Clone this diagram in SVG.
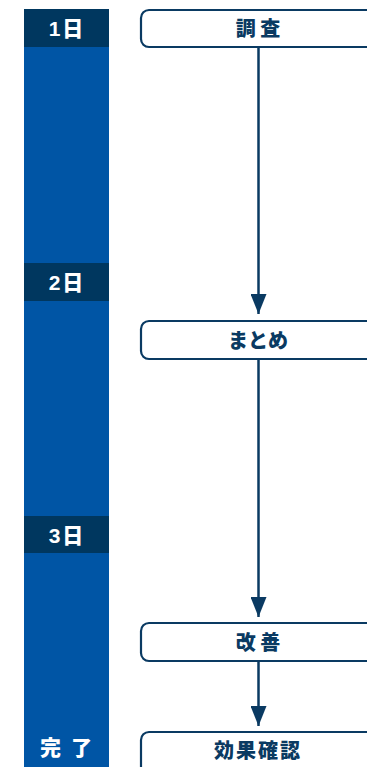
<svg xmlns="http://www.w3.org/2000/svg" width="367" height="767" viewBox="0 0 367 767">
<style>
.bar{fill:#0055a5}
.day{fill:#00375f}
.dl{font-family:"Liberation Sans","Noto Sans CJK JP",sans-serif;font-weight:900;font-size:21px;fill:#fff;text-anchor:middle;letter-spacing:2px}
.box{fill:#fff;stroke:#0a3a62;stroke-width:2.2}
.nl{font-family:"Noto Sans CJK JP",sans-serif;font-weight:900;font-size:20px;fill:#0a3a62;text-anchor:middle}
.ln{stroke:#0a3a62;stroke-width:2.5;fill:none}
</style>
<defs>
<marker id="ah" viewBox="0 0 20 16" refX="20" refY="8" markerWidth="20" markerHeight="16" markerUnits="userSpaceOnUse" orient="auto">
<path d="M0,0 L20,8 L0,16 Z" fill="#0a3a62"/>
</marker>
</defs>
<g id="timeline">
<rect class="bar" x="24" y="9" width="85" height="758"/>
<rect class="day" x="24" y="9" width="85" height="38"/>
<text class="dl" x="67" y="36">1日</text>
<rect class="day" x="24" y="263" width="85" height="38"/>
<text class="dl" x="67" y="290">2日</text>
<rect class="day" x="24" y="516" width="85" height="37"/>
<text class="dl" x="67" y="543">3日</text>
<text class="dl" x="67" y="755">完 了</text>
</g>
<g id="connectors">
<line class="ln" x1="258.5" y1="48" x2="258.5" y2="314" marker-end="url(#ah)"/>
<line class="ln" x1="258.5" y1="359" x2="258.5" y2="617" marker-end="url(#ah)"/>
<line class="ln" x1="258.5" y1="662" x2="258.5" y2="726" marker-end="url(#ah)"/>
</g>
<g id="n1">
<rect class="box" x="141" y="10" width="260" height="37" rx="8"/>
<text class="nl" x="258" y="36">調 査</text>
</g>
<g id="n2">
<rect class="box" x="141" y="321" width="260" height="38" rx="8"/>
<text class="nl" x="258" y="348">まとめ</text>
</g>
<g id="n3">
<rect class="box" x="141" y="623" width="260" height="38" rx="8"/>
<text class="nl" x="258" y="650">改 善</text>
</g>
<g id="n4">
<rect class="box" x="141" y="732" width="260" height="50" rx="8"/>
<text class="nl" x="258" y="758" style="letter-spacing:2px">効果確認</text>
</g>
</svg>
